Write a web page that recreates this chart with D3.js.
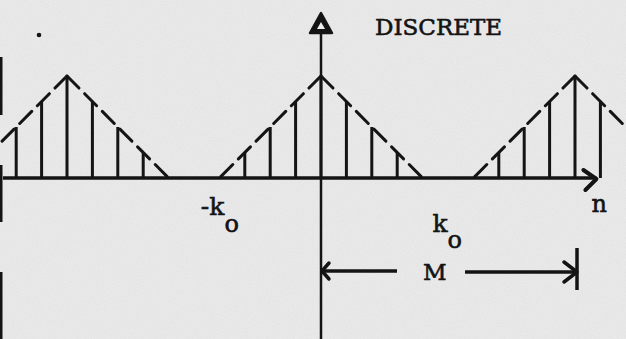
<!DOCTYPE html>
<html>
<head>
<meta charset="utf-8">
<script src="https://cdn.jsdelivr.net/npm/d3@7"></script>
<style>
  html, body { margin: 0; padding: 0; background: #ededed; }
  svg { display: block; }
  text { font-family: "DejaVu Serif", "Liberation Serif", serif; fill: #141414; stroke: #141414; stroke-width: 0.6px; }
</style>
</head>
<body>
<script>
// Periodic discrete triangular sequence x[n], period M = 10, half-width k0 = 4.
const sampleN   = [-12, -11, -10, -9, -8, -7, -3, -2, -1, 0, 1, 2, 3, 7, 8, 9, 10, 11];
const sampleVal = [0.5, 0.75, 1, 0.75, 0.5, 0.25, 0.25, 0.5, 0.75, 1, 0.75, 0.5, 0.25, 0.25, 0.5, 0.75, 1, 0.75];

// Dashed envelope, one triangle per period: [start, peak, end] in n.
const envStart = [-14, -4, 6];
const envPeak  = [-10, 0, 10];
const envEnd   = [-6, 4, 14];
const peakVal  = 1;

// Axis annotations.
const tickN      = [-4, 4];
const tickLabels = ["-k", "k"];
const tickSub    = ["o", "o"];
const periodM    = 10;
const periodLabel = "M";
const axisLabel  = "n";
const titleText  = "DISCRETE";

const W = 626, H = 339;
const ink = "#141414";
const paper = "#ededed";

const svg = d3.select("body").append("svg")
  .attr("width", W).attr("height", H);

// paper grain
const defs = svg.append("defs");
const grain = defs.append("filter").attr("id", "grain")
  .attr("x", 0).attr("y", 0).attr("width", "100%").attr("height", "100%");
grain.append("feTurbulence").attr("type", "fractalNoise")
  .attr("baseFrequency", 0.9).attr("numOctaves", 2).attr("seed", 3);
grain.append("feColorMatrix").attr("type", "matrix")
  .attr("values", "0 0 0 0 0  0 0 0 0 0  0 0 0 0 0  0 0 0 0.05 0");
defs.append("clipPath").attr("id", "plotClip")
  .append("rect").attr("x", 0).attr("y", 0).attr("width", W).attr("height", H);

svg.append("rect").attr("width", W).attr("height", H).attr("fill", paper);
svg.append("rect").attr("width", W).attr("height", H).attr("filter", "url(#grain)");

const x = d3.scaleLinear().domain([-10, 10]).range([67, 575]);
const y = d3.scaleLinear().domain([0, 1]).range([178, 76]);

const g = svg.append("g").attr("clip-path", "url(#plotClip)");

// scan border marks along the left edge
[[57, 115], [165, 222], [272, 339]].forEach(([a, b]) => {
  g.append("rect").attr("x", 0).attr("y", a).attr("width", 2.5).attr("height", b - a).attr("fill", ink);
});

// horizontal axis with arrow
g.append("line")
  .attr("x1", 3).attr("x2", x(11) - 4)
  .attr("y1", y(0)).attr("y2", y(0))
  .attr("stroke", ink).attr("stroke-width", 3.5);
g.append("path")
  .attr("d", `M${x(11) - 17},${y(0) - 8} L${x(11) - 4},${y(0) + 1} L${x(11) - 15},${y(0) + 12}`)
  .attr("fill", "none").attr("stroke", ink).attr("stroke-width", 4)
  .attr("stroke-linecap", "round").attr("stroke-linejoin", "round");

// vertical axis with solid triangular head
const x0 = x(0);
g.append("line")
  .attr("x1", x0).attr("x2", x0).attr("y1", 32).attr("y2", H)
  .attr("stroke", ink).attr("stroke-width", 2.5);
g.append("path")
  .attr("d", `M${x0},13 L${x0 + 11},33 L${x0 - 11},33 Z`)
  .attr("fill", ink).attr("stroke", ink).attr("stroke-width", 2.5)
  .attr("stroke-linejoin", "round");
g.append("path")
  .attr("d", `M${x0},22 L${x0 + 4},29 L${x0 - 4},29 Z`)
  .attr("fill", paper);

// dashed envelopes, each side dashed outward from its peak
envPeak.forEach((p, i) => {
  [envStart[i], envEnd[i]].forEach(e => {
    g.append("line")
      .attr("x1", x(p)).attr("y1", y(peakVal))
      .attr("x2", x(e)).attr("y2", y(0))
      .attr("stroke", ink).attr("stroke-width", 3)
      .attr("stroke-dasharray", "17,8")
      .attr("stroke-linecap", "round");
  });
});

// stems
g.selectAll("line.stem")
  .data(sampleN.map((n, i) => ({ n, v: sampleVal[i] })))
  .join("line").attr("class", "stem")
  .attr("x1", d => x(d.n)).attr("x2", d => x(d.n))
  .attr("y1", y(0)).attr("y2", d => y(d.v))
  .attr("stroke", ink).attr("stroke-width", 3);

// stray dot
g.append("circle").attr("cx", 39).attr("cy", 35).attr("r", 2.3).attr("fill", ink);

// title
svg.append("text").attr("x", 375).attr("y", 35)
  .style("font-size", "23px").text(titleText);

// tick labels -k0, k0
const tickDx = [-1, 2];
tickN.forEach((t, i) => {
  const tx = x(t) + tickDx[i];
  const base = i === 0 ? 215 : 232;
  svg.append("text").attr("y", base).style("font-size", "25px")
    .attr("text-anchor", "end").attr("x", tx + (i === 0 ? 6 : 23)).text(tickLabels[i]);
  svg.append("text").attr("x", tx + (i === 0 ? 6 : 23)).attr("y", base + (i === 0 ? 17 : 16))
    .style("font-size", "24px").text(tickSub[i]);
});

// axis label n
svg.append("text").attr("x", x(11) - 9).attr("y", 212)
  .style("font-size", "24px").text(axisLabel);

// period M arrow
const yM = 271;
g.append("line").attr("x1", x0 + 1).attr("x2", x0 + 76).attr("y1", yM).attr("y2", yM)
  .attr("stroke", ink).attr("stroke-width", 3.5);
g.append("path").attr("d", `M${x0 + 8},${yM - 8} L${x0 + 1},${yM} L${x0 + 8},${yM + 8}`)
  .attr("fill", "none").attr("stroke", ink).attr("stroke-width", 3.5)
  .attr("stroke-linecap", "round").attr("stroke-linejoin", "round");
const xM = x(periodM) + 2;
g.append("line").attr("x1", xM - 112).attr("x2", xM).attr("y1", yM + 1).attr("y2", yM + 1)
  .attr("stroke", ink).attr("stroke-width", 3.5);
g.append("path").attr("d", `M${xM - 13},${yM - 9} L${xM},${yM + 1} L${xM - 13},${yM + 11}`)
  .attr("fill", "none").attr("stroke", ink).attr("stroke-width", 3.5)
  .attr("stroke-linecap", "round").attr("stroke-linejoin", "round");
g.append("line").attr("x1", xM).attr("x2", xM).attr("y1", 248).attr("y2", 290)
  .attr("stroke", ink).attr("stroke-width", 3.5);
svg.append("text").attr("x", 423).attr("y", 280)
  .style("font-size", "23px").text(periodLabel);
</script>
</body>
</html>
